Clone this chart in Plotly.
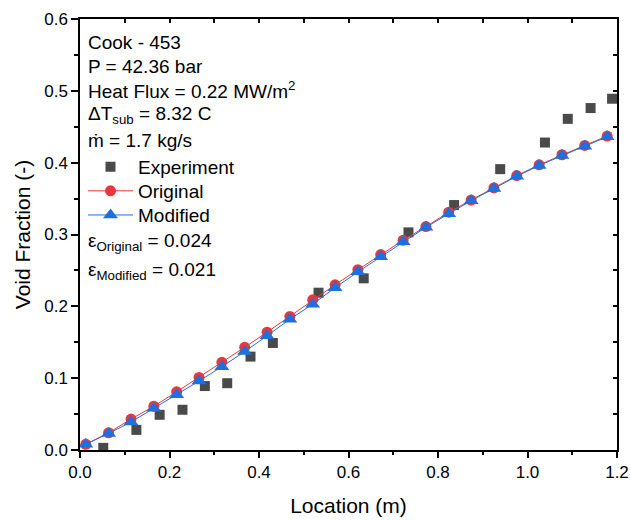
import plotly.graph_objects as go

# Measured void fraction along the heated channel (Cook - 453)
exp_x = [0.052, 0.126, 0.178, 0.229, 0.279, 0.329, 0.381, 0.431, 0.533, 0.634,
         0.734, 0.836, 0.939, 1.039, 1.090, 1.141, 1.189]
exp_y = [0.003, 0.028, 0.049, 0.056, 0.089, 0.093, 0.130, 0.149, 0.219, 0.239,
         0.303, 0.341, 0.391, 0.428, 0.461, 0.476, 0.489]

# Model predictions at the cell centres
model_x = [0.013, 0.064, 0.114, 0.165, 0.216, 0.266, 0.317, 0.368, 0.418, 0.469,
           0.520, 0.570, 0.621, 0.672, 0.722, 0.773, 0.824, 0.874, 0.925, 0.976,
           1.026, 1.077, 1.128, 1.178]
original_y = [0.008, 0.024, 0.043, 0.061, 0.081, 0.101, 0.122, 0.143, 0.164, 0.186,
              0.209, 0.230, 0.251, 0.272, 0.292, 0.311, 0.331, 0.348, 0.365, 0.382,
              0.397, 0.411, 0.424, 0.437]
modified_y = [0.008, 0.023, 0.039, 0.058, 0.077, 0.096, 0.116, 0.137, 0.159, 0.182,
              0.203, 0.226, 0.248, 0.269, 0.290, 0.310, 0.329, 0.347, 0.364, 0.381,
              0.396, 0.410, 0.423, 0.436]

info_lines = [
    "Cook - 453",
    "P = 42.36 bar",
    "Heat Flux = 0.22 MW/m<sup>2</sup>",
    "ΔT<sub>sub</sub> = 8.32 C",
    "ṁ = 1.7 kg/s",
]
error_lines = [
    "ε<sub>Original</sub> = 0.024",
    "ε<sub>Modified</sub> = 0.021",
]

FONT = "Liberation Sans, Arial, sans-serif"
RED = "#e8383d"
BLUE = "#1f6fdc"
GRAY = "#4a4a4a"

fig = go.Figure()
fig.add_trace(go.Scatter(
    x=exp_x, y=exp_y, mode="markers", name="Experiment", legend="legend",
    marker=dict(symbol="square", size=10, color=GRAY),
))
fig.add_trace(go.Scatter(
    x=model_x, y=original_y, mode="lines+markers", name="Original", legend="legend2",
    line=dict(color=RED, width=1),
    marker=dict(symbol="circle", size=11, color=RED),
))
fig.add_trace(go.Scatter(
    x=model_x, y=modified_y, mode="lines+markers", name="Modified", legend="legend3",
    line=dict(color=BLUE, width=1),
    marker=dict(symbol="triangle-up", size=13, color=BLUE),
))

# Mirror axes on top and right with inward ticks
fig.add_trace(go.Scatter(x=[], y=[], xaxis="x2", yaxis="y2", showlegend=False,
                         hoverinfo="skip"))

annotations = []
info_y = [0.946, 0.890, 0.835, 0.777, 0.719]
for txt, yy in zip(info_lines, info_y):
    annotations.append(dict(text=txt, x=0.012, y=yy, xref="paper", yref="paper",
                            xanchor="left", yanchor="middle", showarrow=False,
                            font=dict(family=FONT, size=19, color="black")))
err_y = [0.483, 0.416]
for txt, yy in zip(error_lines, err_y):
    annotations.append(dict(text=txt, x=0.012, y=yy, xref="paper", yref="paper",
                            xanchor="left", yanchor="middle", showarrow=False,
                            font=dict(family=FONT, size=19, color="black")))

axis_common = dict(
    showline=True, linecolor="black", linewidth=1.5, showgrid=False,
    zeroline=False, tickcolor="black", tickwidth=1.5, automargin=False,
)

legend_common = dict(x=0.0056, xanchor="left", yanchor="middle",
                     bgcolor="rgba(0,0,0,0)", font=dict(family=FONT, size=19),
                     itemwidth=45)

fig.update_layout(
    width=630, height=520,
    margin=dict(l=80, r=13, t=19, b=70),
    paper_bgcolor="white", plot_bgcolor="white",
    font=dict(family=FONT, size=17, color="black"),
    showlegend=True,
    legend=dict(y=0.657, **legend_common),
    legend2=dict(y=0.601, **legend_common),
    legend3=dict(y=0.545, **legend_common),
    xaxis=dict(
        range=[0, 1.2], dtick=0.2, tickformat=".1f",
        ticks="outside", ticklen=6,
        minor=dict(dtick=0.1, ticks="outside", ticklen=3, tickcolor="black", tickwidth=1.5),
        title=dict(text="Location (m)", font=dict(family=FONT, size=21), standoff=17),
        tickfont=dict(family=FONT, size=17),
        **axis_common,
    ),
    yaxis=dict(
        range=[0, 0.6], dtick=0.1, tickformat=".1f",
        ticks="outside", ticklen=7,
        minor=dict(dtick=0.05, ticks="outside", ticklen=4, tickcolor="black", tickwidth=1.5),
        title=dict(text="Void Fraction (-)", font=dict(family=FONT, size=21), standoff=8),
        tickfont=dict(family=FONT, size=17),
        **axis_common,
    ),
    xaxis2=dict(
        overlaying="x", side="top", anchor="y", range=[0, 1.2], dtick=0.2,
        ticks="inside", ticklen=4, showticklabels=False,
        minor=dict(dtick=0.1, ticks="inside", ticklen=4, tickcolor="black", tickwidth=1.5),
        **axis_common,
    ),
    yaxis2=dict(
        overlaying="y", side="right", anchor="x", range=[0, 0.6], dtick=0.1,
        ticks="inside", ticklen=4, showticklabels=False,
        minor=dict(dtick=0.05, ticks="inside", ticklen=4, tickcolor="black", tickwidth=1.5),
        **axis_common,
    ),
    annotations=annotations,
)

fig.write_html("out.html")
